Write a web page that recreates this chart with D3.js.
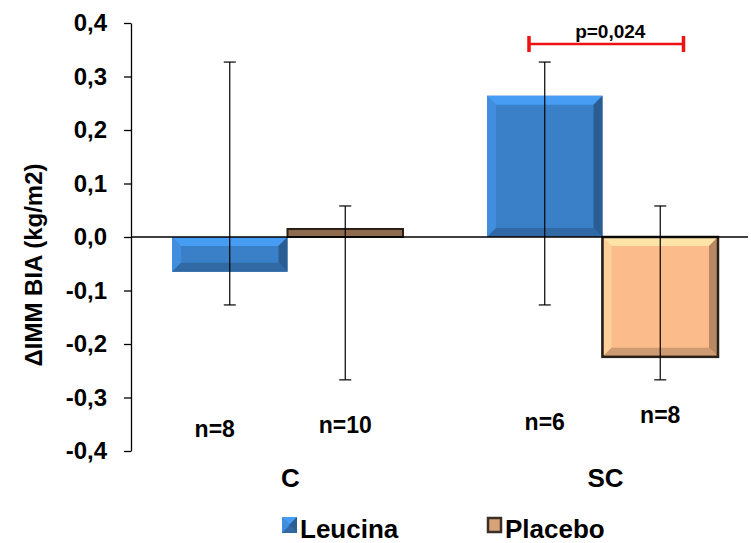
<!DOCTYPE html>
<html>
<head>
<meta charset="utf-8">
<script src="https://cdn.jsdelivr.net/npm/d3@7"></script>
<style>
  body { margin: 0; background: #fff; }
  text { font-family: "Liberation Sans", Arial, sans-serif; font-weight: bold; fill: #000; }
</style>
</head>
<body>
<svg id="chart" width="751" height="543"></svg>
<script>
// data
const categories = ["C", "SC"];
const seriesNames = ["Leucina", "Placebo"];
const leucina = [-0.065, 0.264];
const placebo = [0.015, -0.224];
const errUpper = { Leucina: [0.327, 0.327], Placebo: [0.058, 0.058] };
const errLower = { Leucina: [-0.127, -0.127], Placebo: [-0.267, -0.267] };
const nLabels = { Leucina: ["n=8", "n=6"], Placebo: ["n=10", "n=8"] };
const nLabelY = { Leucina: [-0.374, -0.361], Placebo: [-0.366, -0.348] };
const yTicks = [0.4, 0.3, 0.2, 0.1, 0.0, -0.1, -0.2, -0.3, -0.4];
const pText = "p=0,024";

const colors = { Leucina: "#3a80c8", Placebo: "#fbbb8a" };

const svg = d3.select("#chart");

const y = d3.scaleLinear().domain([-0.4, 0.4]).range([451, 23]);
const x = d3.scaleBand().domain(categories).range([130, 760]);
const xs = d3.scaleBand().domain(seriesNames).range([42, x.bandwidth() - 42]);

const fmt = v => d3.format(".1f")(v).replace(".", ",").replace("−", "-");

// y axis
const yAxis = svg.append("g")
  .attr("transform", "translate(131,0)")
  .call(d3.axisLeft(y).tickValues(yTicks).tickSize(7).tickSizeOuter(0).tickFormat(fmt));
yAxis.select(".domain").attr("stroke", "#000").attr("stroke-width", 1.3);
yAxis.selectAll(".tick line").attr("stroke", "#000").attr("stroke-width", 1.3);
yAxis.selectAll(".tick text")
  .attr("x", -24)
  .style("font-size", "24px")
  .style("font-family", "'Liberation Sans', Arial, sans-serif")
  .style("font-weight", "bold");

svg.append("text")
  .attr("transform", "translate(42,265) rotate(-90)")
  .attr("text-anchor", "middle")
  .style("font-size", "24px")
  .text("ΔIMM BIA (kg/m2)");

// bevelled bar
function bevelBar(g, x0, y0, w, h, color, border) {
  const b = Math.min(9, h / 2, w / 2);
  const c = d3.color(color);
  const thin = h < 14;
  const base = thin ? c.darker(1.6) : c;
  g.append("rect").attr("x", x0).attr("y", y0).attr("width", w).attr("height", h)
    .attr("fill", base)
    .attr("stroke", border || "none").attr("stroke-width", border ? 2 : 0);
  if (thin) return;
  const light = c.brighter(0.55), lighter = c.brighter(0.3);
  const dark = c.darker(0.9), darker = c.darker(0.55);
  const x1 = x0 + w, y1 = y0 + h;
  g.append("polygon").attr("points", [[x0, y0], [x1, y0], [x1 - b, y0 + b], [x0 + b, y0 + b]].join(" "))
    .attr("fill", light);
  g.append("polygon").attr("points", [[x0, y0], [x0 + b, y0 + b], [x0 + b, y1 - b], [x0, y1]].join(" "))
    .attr("fill", lighter);
  g.append("polygon").attr("points", [[x1, y0], [x1, y1], [x1 - b, y1 - b], [x1 - b, y0 + b]].join(" "))
    .attr("fill", dark);
  g.append("polygon").attr("points", [[x0, y1], [x0 + b, y1 - b], [x1 - b, y1 - b], [x1, y1]].join(" "))
    .attr("fill", darker);
  if (border) {
    g.append("rect").attr("x", x0).attr("y", y0).attr("width", w).attr("height", h)
      .attr("fill", "none").attr("stroke", border).attr("stroke-width", 2.5);
  }
}

const bars = svg.append("g");
const seriesData = { Leucina: leucina, Placebo: placebo };
seriesNames.forEach(s => {
  categories.forEach((cat, i) => {
    const v = seriesData[s][i];
    const bx = x(cat) + xs(s);
    const top = y(Math.max(0, v)), bot = y(Math.min(0, v));
    bevelBar(bars, bx, top, xs.bandwidth(), bot - top, colors[s], s === "Placebo" ? "#2a2018" : null);
  });
});

// zero line
svg.append("line")
  .attr("x1", 131).attr("x2", 748)
  .attr("y1", y(0)).attr("y2", y(0))
  .attr("stroke", "#000").attr("stroke-width", 1.5);

// error bars
const eb = svg.append("g").attr("stroke", "#000").attr("stroke-width", 1.2);
seriesNames.forEach(s => {
  categories.forEach((cat, i) => {
    const cx = x(cat) + xs(s) + xs.bandwidth() / 2;
    const hi = y(errUpper[s][i]), lo = y(errLower[s][i]);
    eb.append("line").attr("x1", cx).attr("x2", cx).attr("y1", hi).attr("y2", lo);
    eb.append("line").attr("x1", cx - 6).attr("x2", cx + 6).attr("y1", hi).attr("y2", hi);
    eb.append("line").attr("x1", cx - 6).attr("x2", cx + 6).attr("y1", lo).attr("y2", lo);
  });
});

// n labels
seriesNames.forEach(s => {
  categories.forEach((cat, i) => {
    const shift = (s === "Leucina" && i === 0) ? -15 : 0;
    svg.append("text")
      .attr("x", x(cat) + xs(s) + xs.bandwidth() / 2 + shift)
      .attr("y", y(nLabelY[s][i]))
      .attr("text-anchor", "middle")
      .style("font-size", "23px")
      .text(nLabels[s][i]);
  });
});

// category labels
categories.forEach(cat => {
  svg.append("text")
    .attr("x", x(cat) + x.bandwidth() / 2 + 3)
    .attr("y", 487)
    .attr("text-anchor", "middle")
    .style("font-size", "26px")
    .text(cat);
});

// significance bracket between SC bars
const bx0 = x("SC") + xs("Leucina") + 42, bx1 = x("SC") + xs("Placebo") + 81;
const by = 44;
const br = svg.append("g").attr("stroke", "#ee1111");
br.append("line").attr("x1", bx0).attr("x2", bx1).attr("y1", by).attr("y2", by).attr("stroke-width", 2.5);
br.append("line").attr("x1", bx0).attr("x2", bx0).attr("y1", by - 8).attr("y2", by + 8).attr("stroke-width", 3.5);
br.append("line").attr("x1", bx1).attr("x2", bx1).attr("y1", by - 8).attr("y2", by + 8).attr("stroke-width", 3.5);
svg.append("text")
  .attr("x", (bx0 + bx1) / 2 + 4).attr("y", 38)
  .attr("text-anchor", "middle")
  .style("font-size", "19px")
  .text(pText);

// legend
const legendX = [282, 487];
seriesNames.forEach((s, i) => {
  const g = svg.append("g");
  const c = d3.color(colors[s]);
  if (s === "Leucina") {
    bevelBar(g, legendX[i], 517, 15, 16, colors[s], null);
  } else {
    g.append("rect").attr("x", legendX[i] + 1).attr("y", 518).attr("width", 13).attr("height", 14)
      .attr("fill", c.darker(0.4)).attr("stroke", "#3a3028").attr("stroke-width", 2.5);
  }
  g.append("text")
    .attr("x", legendX[i] + 18).attr("y", 538)
    .style("font-size", "26px")
    .text(s);
});
</script>
</body>
</html>
